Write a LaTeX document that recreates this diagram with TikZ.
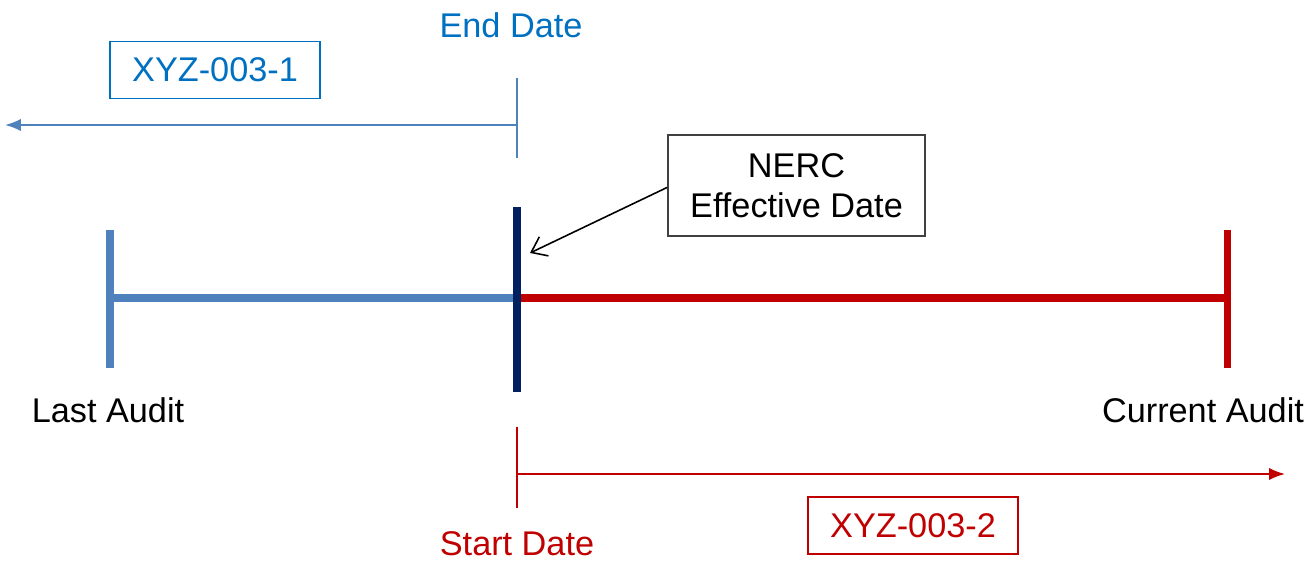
\documentclass[tikz,border=0pt]{standalone}
\usepackage{fontspec}
\setmainfont{Liberation Sans}
\usetikzlibrary{arrows.meta,positioning}
\definecolor{lineblue}{RGB}{79,129,189}
\definecolor{textblue}{RGB}{0,112,192}
\definecolor{darkred}{RGB}{192,0,0}
\definecolor{navy}{RGB}{0,32,96}

\begin{document}
\begin{tikzpicture}[x=1cm, y=1cm,
					every node/.style={inner sep=0pt, align=center, font=\fontsize{19.5}{23}\selectfont},
					bar/.style={line width=4pt},
					thin/.style={line width=1.1pt},
					tag/.style={draw, line width=1.1pt, minimum width=4.2cm, minimum height=1.14cm}]
					\useasboundingbox (0,0) rectangle (26.24,11.26);
					% timeline
					\coordinate (last) at (2.20,5.30);
					\coordinate (eff) at (10.34,5.30);
					\coordinate (curr) at (24.54,5.30);
					\draw[bar, lineblue] (2.20,6.66) -- (2.20,3.90);
					\draw[bar, lineblue] (last) -- (eff);
					\draw[bar, darkred] (eff) -- (curr);
					\draw[bar, darkred] (24.54,6.66) -- (24.54,3.90);
					\draw[bar, navy] (10.34,7.12) coordinate (effT) -- (10.34,3.42);
					\node (lastA) at (2.16,3.06) {Last Audit};
					\node (currA) at (24.06,3.06) {Current Audit};
					% XYZ-003-1
					\coordinate (endT) at (10.34,9.70);
					\coordinate (endB) at (10.34,8.10);
					\coordinate (endM) at (10.34,8.76);
					\coordinate (endL) at (0.10,8.76);
					\draw[thin, lineblue] (endT) -- (endB);
					\draw[thin, lineblue, -{Latex[length=9pt,width=7pt]}] (endM) -- (endL);
					\node[textblue] (endD) at (10.22,10.76) {End Date};
					\node[tag, textblue] (old) at (4.30,9.86) {XYZ-003-1};
					% NERC
					\node[draw, line width=1.1pt, draw=black!75, minimum width=5.14cm, minimum height=2.02cm] (nerc) at (15.93,7.55) {NERC\\Effective Date};
					\coordinate (nercTip) at (10.60,6.20);
					\draw[thin, line width=0.9pt, -{Straight Barb[length=8pt,width=12pt]}] (nerc.west) ++(0,-0.04) -- (nercTip);
					% XYZ-003-2
					\coordinate (startT) at (10.34,2.72);
					\coordinate (startB) at (10.34,1.10);
					\coordinate (startM) at (10.34,1.78);
					\coordinate (startR) at (25.70,1.78);
					\draw[thin, darkred] (startT) -- (startB);
					\draw[thin, darkred, -{Latex[length=9pt,width=7pt]}] (startM) -- (startR);
					\node[darkred] (startD) at (10.34,0.38) {Start Date};
					\node[tag, darkred] (new) at (18.26,0.75) {XYZ-003-2};
				\end{tikzpicture}
\end{document}
